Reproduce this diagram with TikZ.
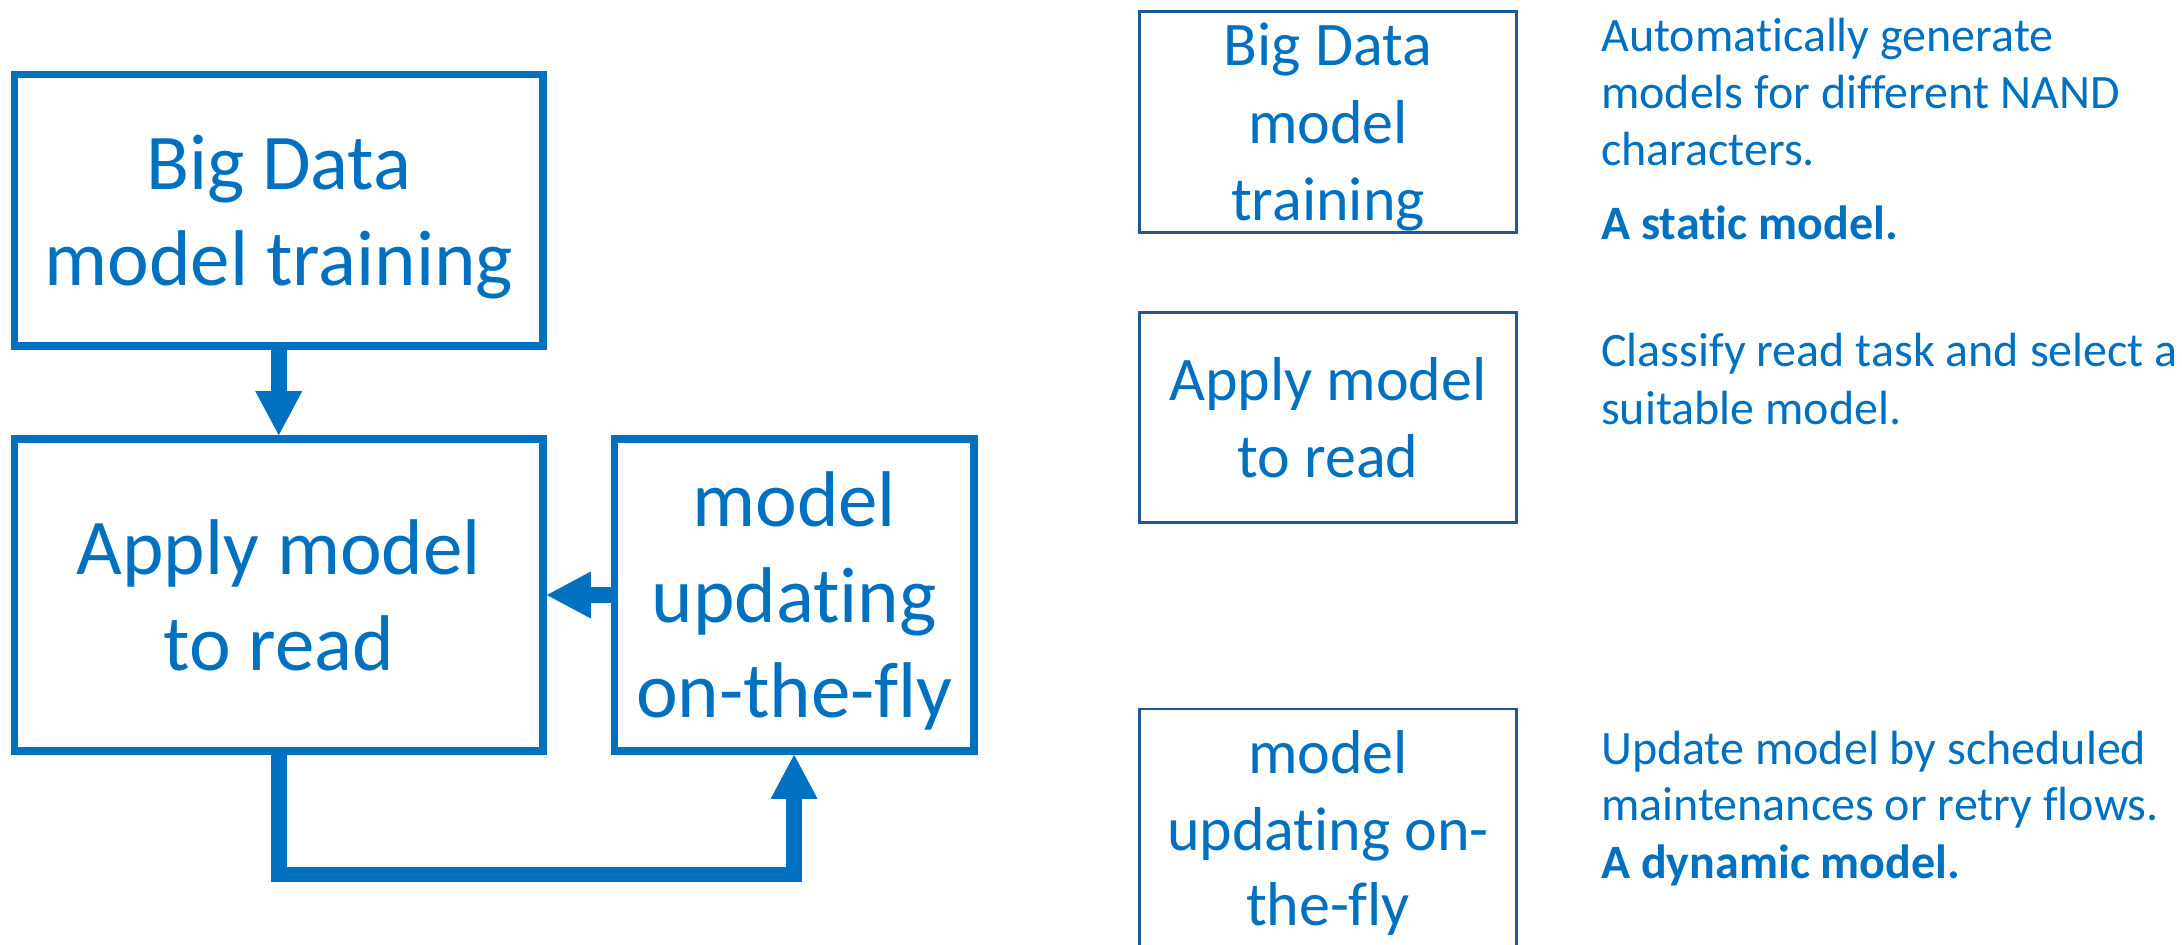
\documentclass[tikz,border=0pt]{standalone}
\usepackage{fontspec}
\setmainfont{Carlito}[Ligatures={NoCommon,TeX}]
\usetikzlibrary{arrows.meta}
\definecolor{mblue}{RGB}{0,112,192}
\definecolor{dblue}{RGB}{31,88,150}
\begin{document}
\begin{tikzpicture}[x=1pt,y=-1pt,
  bigbox/.style={draw=mblue, line width=7.7pt, inner sep=0pt},
  thinbox/.style={draw=dblue, line width=2.5pt, inner sep=0pt, minimum width=377.4pt},
  conn/.style={draw=mblue, line width=15.5pt, line join=miter,
    -{Triangle[length=44pt,width=47pt,line width=0pt]}},
  lbig/.style={inner sep=0pt, anchor=base, text=mblue, font=\fontsize{79}{96}\selectfont},
  lmid/.style={inner sep=0pt, anchor=base, text=mblue, font=\fontsize{62}{77}\selectfont},
  ldesc/.style={inner sep=0pt, anchor=base west, text=mblue, font=\fontsize{48}{57}\selectfont},
  lbold/.style={ldesc, font=\fontsize{48}{57}\selectfont\bfseries}]
\useasboundingbox (0,0) rectangle (2182,945);

% left flow chart
\node[bigbox, minimum width=528.5pt, minimum height=271.5pt] (b1) at (278.75,210.25) {};
\node[bigbox, minimum width=528.5pt, minimum height=312pt] (b2) at (278.75,595) {};
\node[bigbox, minimum width=359.2pt, minimum height=312pt] (b3) at (794.1,595) {};

\node[lbig] (b1t1) at (278.75,189) {Big Data};
\node[lbig] (b1t2) at (278.75,285) {model training};
\node[lbig] (b2t1) at (278.75,574) {Apply model};
\node[lbig] (b2t2) at (278.75,670) {to read};
\node[lbig] (b3t1) at (794.1,526) {model};
\node[lbig] (b3t2) at (794.1,622.3) {updating};
\node[lbig] (b3t3) at (794.1,717.7) {on-the-fly};

\draw[conn] (b1.south) -- (b2.north);
\draw[conn] (b3.west) -- (b2.east);
\draw[conn] (b2.south) -- ++(0,119.5) -| (b3.south);

% right column boxes
\node[thinbox, minimum height=220.6pt] (ra) at (1328,122) {};
\node[thinbox, minimum height=210pt] (rb) at (1328,417.3) {};
\node[thinbox, minimum height=251pt] (rc) at (1328,834.5) {};

\node[lmid] (rat1) at (1328,65.7) {Big Data};
\node[lmid] (rat2) at (1328,143.3) {model};
\node[lmid] (rat3) at (1328,220) {training};
\node[lmid] (rbt1) at (1328,400) {Apply model};
\node[lmid] (rbt2) at (1328,477) {to read};
\node[lmid] (rct1) at (1328,773.3) {model};
\node[lmid] (rct2) at (1328,850) {updating on-};
\node[lmid] (rct3) at (1328,925.7) {the-fly};

% descriptions
\node[ldesc] (d1) at (1601,51.7) {Automatically generate};
\node[ldesc] (d2) at (1601,108.3) {models for different NAND};
\node[ldesc] (d3) at (1601,165.7) {characters.};
\node[lbold] (d4) at (1601,239) {A static model.};
\node[ldesc] (d5) at (1601,366.7) {Classify read task and select a};
\node[ldesc] (d6) at (1601,424) {suitable model.};
\node[ldesc] (d7) at (1601,764) {Update model by scheduled};
\node[ldesc] (d8) at (1601,820.7) {maintenances or retry flows.};
\node[lbold] (d9) at (1601,878.3) {A dynamic model.};
\end{tikzpicture}
\end{document}
